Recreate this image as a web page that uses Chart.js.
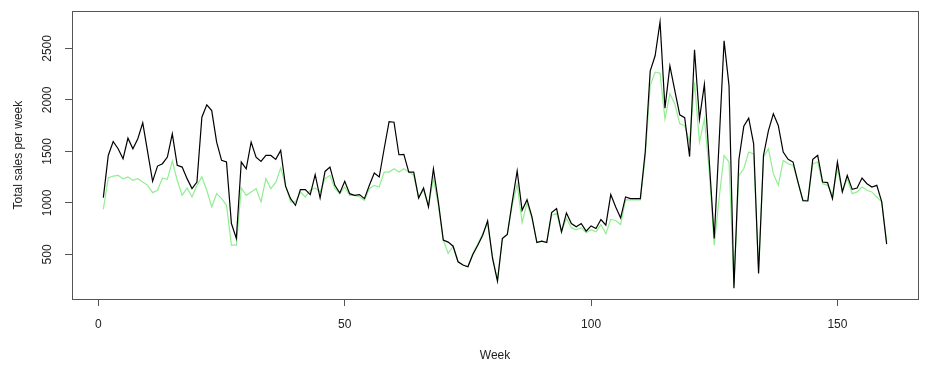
<!DOCTYPE html>
<html>
<head>
<meta charset="utf-8">
<script src="https://cdn.jsdelivr.net/npm/chart.js@4.4.1/dist/chart.umd.min.js"></script>
<style>
  html, body { margin: 0; padding: 0; background: #ffffff; }
  #wrap { width: 930px; height: 370px; }
</style>
</head>
<body>
<div id="wrap"><canvas id="c" width="930" height="370"></canvas></div>
<script>
// Weeks 1..160 (category positions)
const weeks = Array.from({ length: 160 }, (_, i) => i + 1);

// Black series: total sales per week
const salesBlack = [
  1052, 1461, 1597, 1526, 1429, 1629, 1526, 1623, 1777, 1494,
  1210, 1358, 1381, 1445, 1671, 1365, 1348, 1236, 1139, 1203,
  1832, 1952, 1897, 1590, 1413, 1397, 800, 655, 1397, 1332,
  1590, 1445, 1403, 1461, 1461, 1423, 1510, 1160, 1042, 977,
  1129, 1129, 1081, 1274, 1048, 1306, 1348, 1171, 1097, 1210,
  1090, 1074, 1081, 1042, 1171, 1290, 1252, 1526, 1790, 1784,
  1468, 1471, 1300, 1300, 1048, 1145, 961, 1332, 1010, 640,
  620, 580, 429, 397, 381, 500, 590, 687, 826, 461,
  242, 655, 694, 1010, 1310, 929, 1032, 865, 616, 629,
  616, 906, 945, 719, 903, 800, 768, 800, 726, 777,
  752, 839, 784, 1081, 961, 855, 1058, 1042, 1042, 1042,
  1500, 2280, 2429, 2758, 1920, 2330, 2090, 1855, 1828, 1450,
  2487, 1813, 2150, 1400, 655, 1600, 2574, 2139, 171, 1420,
  1744, 1823, 1574, 316, 1461, 1703, 1865, 1752, 1494, 1423,
  1397, 1203, 1022, 1019, 1423, 1461, 1203, 1197, 1042, 1397,
  1107, 1268, 1132, 1145, 1242, 1187, 1155, 1171, 1010, 600
];

// Green series
const salesGreen = [
  939, 1242, 1261, 1268, 1235, 1252, 1219, 1235, 1203, 1171,
  1100, 1123, 1242, 1229, 1406, 1220, 1074, 1145, 1058, 1171,
  1252, 1123, 961, 1090, 1042, 977, 590, 590, 1145, 1074,
  1106, 1139, 1010, 1236, 1139, 1200, 1340, 1171, 1010, 1010,
  1106, 1058, 1123, 1145, 1106, 1236, 1268, 1139, 1090, 1155,
  1074, 1074, 1058, 1026, 1139, 1171, 1155, 1300, 1300, 1332,
  1300, 1332, 1300, 1268, 1058, 1123, 977, 1236, 977, 640,
  510, 580, 429, 397, 381, 510, 600, 700, 800, 480,
  250, 660, 700, 980, 1180, 810, 1000, 850, 620, 630,
  620, 880, 900, 720, 850, 760, 740, 760, 710, 740,
  720, 790, 700, 840, 830, 790, 1030, 1030, 1030, 1030,
  1450, 2139, 2270, 2260, 1816, 2059, 1961, 1768, 1752, 1590,
  2171, 1590, 1816, 1300, 590, 1050, 1461, 1397, 200, 1268,
  1332, 1494, 1477, 348, 1445, 1526, 1284, 1171, 1413, 1381,
  1365, 1203, 1026, 1026, 1381, 1397, 1187, 1171, 1074, 1332,
  1107, 1236, 1090, 1107, 1155, 1123, 1107, 1058, 1010, 620
];

// Tick labels
const xTicks = [0, 50, 100, 150];
const yTicks = [500, 1000, 1500, 2000, 2500];

const toPoints = (vals) => vals.map((v, i) => ({ x: weeks[i], y: v }));

const boxPlugin = {
  id: 'rbox',
  afterDraw(chart) {
    const { ctx, chartArea: a } = chart;
    ctx.save();
    ctx.strokeStyle = '#555555';
    ctx.lineWidth = 1;
    ctx.strokeRect(Math.round(a.left) + 0.5, Math.round(a.top) + 0.5,
      Math.round(a.right - a.left), Math.round(a.bottom - a.top));
    ctx.restore();
  }
};

const FONT = "'Liberation Sans', Arial, Helvetica, sans-serif";

new Chart(document.getElementById('c'), {
  type: 'line',
  data: {
    datasets: [
      {
        label: 'black',
        data: toPoints(salesBlack),
        borderColor: '#000000',
        borderWidth: 1.2,
        pointRadius: 0,
        tension: 0,
        fill: false
      },
      {
        label: 'green',
        data: toPoints(salesGreen),
        borderColor: '#90EE90',
        borderWidth: 1.2,
        pointRadius: 0,
        tension: 0,
        fill: false
      }
    ]
  },
  options: {
    responsive: false,
    animation: false,
    devicePixelRatio: 1,
    layout: { padding: { top: 10, right: 12, left: 0, bottom: 0 }, autoPadding: false },
    plugins: {
      legend: { display: false },
      tooltip: { enabled: false }
    },
    scales: {
      x: {
        type: 'linear',
        min: -5.36,
        max: 166.36,
        afterBuildTicks: (s) => { s.ticks = xTicks.map(v => ({ value: v })); },
        afterFit: (s) => { s.height = 71; },
        grid: { drawOnChartArea: false, drawTicks: true, tickLength: 7, color: '#555555', lineWidth: 1 },
        border: { display: false },
        ticks: {
          color: '#222222',
          font: { family: FONT, size: 12 },
          padding: 11,
          maxRotation: 0,
          autoSkip: false,
          callback: (v) => String(v)
        },
        title: {
          display: true,
          text: 'Week',
          color: '#222222',
          font: { family: FONT, size: 12 },
          padding: { top: 0, bottom: 7 }
        }
      },
      y: {
        type: 'linear',
        min: 67.5,
        max: 2861.5,
        afterBuildTicks: (s) => { s.ticks = yTicks.map(v => ({ value: v })); },
        afterFit: (s) => { s.width = 72; },
        grid: { drawOnChartArea: false, drawTicks: true, tickLength: 7, color: '#555555', lineWidth: 1 },
        border: { display: false },
        ticks: {
          color: '#222222',
          font: { family: FONT, size: 12 },
          padding: 4,
          minRotation: 90,
          maxRotation: 90,
          crossAlign: 'center',
          autoSkip: false,
          callback: (v) => String(v)
        },
        title: {
          display: true,
          text: 'Total sales per week',
          color: '#222222',
          font: { family: FONT, size: 12 },
          padding: { top: 11, bottom: 0 }
        }
      }
    }
  },
  plugins: [boxPlugin]
});
</script>
</body>
</html>
